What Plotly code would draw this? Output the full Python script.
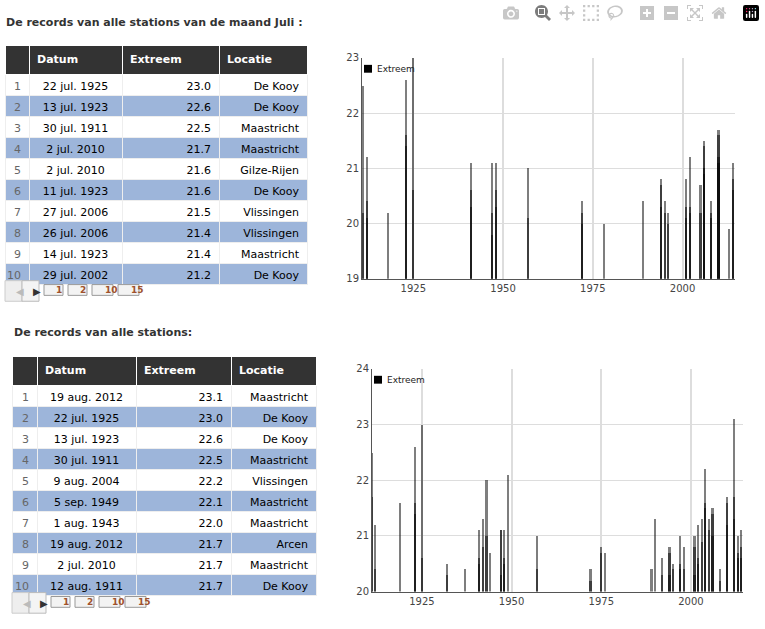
import plotly.graph_objects as go

W, H = 765, 629
FONT = "DejaVu Sans"

# ---- table data ----
t1_datum = ["22 jul. 1925", "13 jul. 1923", "30 jul. 1911", "2 jul. 2010", "2 jul. 2010",
            "11 jul. 1923", "27 jul. 2006", "26 jul. 2006", "14 jul. 1923", "29 jul. 2002"]
t1_extreem = ["23.0", "22.6", "22.5", "21.7", "21.6", "21.6", "21.5", "21.4", "21.4", "21.2"]
t1_locatie = ["De Kooy", "De Kooy", "Maastricht", "Maastricht", "Gilze-Rijen",
              "De Kooy", "Vlissingen", "Vlissingen", "Maastricht", "De Kooy"]

t2_datum = ["19 aug. 2012", "22 jul. 1925", "13 jul. 1923", "30 jul. 1911", "9 aug. 2004",
            "5 sep. 1949", "1 aug. 1943", "19 aug. 2012", "2 jul. 2010", "12 aug. 1911"]
t2_extreem = ["23.1", "23.0", "22.6", "22.5", "22.2", "22.1", "22.0", "21.7", "21.7", "21.7"]
t2_locatie = ["Maastricht", "De Kooy", "De Kooy", "Maastricht", "Vlissingen",
              "Maastricht", "Maastricht", "Arcen", "Maastricht", "De Kooy"]

# ---- chart data: per year, all record values ----
years1 = [1911, 1912, 1918, 1923, 1925, 1941, 1947, 1948, 1957, 1972, 1978, 1989,
          1994, 1995, 1996, 2001, 2002, 2005, 2006, 2008, 2010, 2013, 2014]
vals1 = [[22.5, 20.2], [21.2, 20.4, 20.1], [20.2], [22.6, 21.6, 21.4], [23.0, 20.6],
         [21.1, 20.6, 20.3], [21.1, 20.2, 19.8], [21.1, 20.6, 20.3], [21.0, 20.1],
         [20.4, 20.2, 20.0], [20.0], [20.4], [20.8, 20.7, 20.3], [20.4, 20.2],
         [20.2, 20.0], [20.8, 20.3, 20.1], [21.2, 20.3, 20.2], [20.7, 20.2],
         [21.5, 21.4, 21.0, 20.9], [20.4, 20.2, 20.1], [21.7, 21.6, 21.2, 21.1],
         [19.9], [21.1, 20.8, 20.6]]

years2 = [1911, 1912, 1919, 1923, 1925, 1932, 1937, 1941, 1942, 1943, 1944, 1947,
          1948, 1949, 1957, 1972, 1975, 1976, 1989, 1990, 1992, 1994, 1995, 1997,
          1998, 2001, 2002, 2003, 2004, 2005, 2006, 2008, 2010, 2012, 2013, 2014]
vals2 = [[22.5, 21.7], [21.2, 20.4], [21.6], [22.6, 21.6, 21.4], [23.0, 20.6],
         [20.5, 20.3], [20.4], [21.1, 20.6, 20.5], [21.3, 20.8], [22.0, 21.0], [20.7],
         [21.1, 21.1, 20.3], [21.1, 20.6, 20.5], [22.1], [21.0, 20.4], [20.4, 20.2],
         [20.8, 20.7], [20.7], [20.4], [21.3], [20.6, 20.3], [20.8, 20.7, 20.3],
         [20.5, 20.4], [21.0, 20.5, 20.4], [20.8, 20.4], [21.0, 20.8, 20.3],
         [21.2, 20.6, 20.5], [21.3, 20.9], [22.2, 21.6, 21.5], [21.3, 21.1],
         [21.5, 21.4, 21.0], [20.4, 20.2], [21.7, 21.6, 21.2], [23.1, 21.7, 21.3],
         [21.0, 20.7, 20.6], [21.1, 20.8, 20.6]]

ROW_BLUE = "#9db5da"


def px_x(x):
    return x / W


def px_y(y):
    return 1 - y / H


fig = go.Figure()


def add_table(datum, extreem, locatie, x0, x1, y0, y1, widths):
    fills = ["white" if i % 2 == 0 else ROW_BLUE for i in range(len(datum))]
    fig.add_trace(go.Table(
        domain=dict(x=[px_x(x0), px_x(x1)], y=[px_y(y1), px_y(y0)]),
        columnwidth=widths,
        header=dict(values=["", "<b>Datum</b>", "<b>Extreem</b>", "<b>Locatie</b>"],
                    fill_color="#333333", line_color="white", height=20,
                    font=dict(family=FONT, size=11, color="white"), align="left"),
        cells=dict(values=[[str(i + 1) for i in range(len(datum))], datum, extreem, locatie],
                   fill_color=[fills] * 4, line_color="#eeeeee", height=21,
                   font=dict(family=FONT, size=11, color=["#666666", "black", "black", "black"]),
                   align=["right", "center", "right", "right"]),
    ))


add_table(t1_datum, t1_extreem, t1_locatie, 5, 307, 40, 285, [24, 93, 97, 88])
add_table(t2_datum, t2_extreem, t2_locatie, 12, 316, 357, 603, [25, 99, 95, 85])


def add_chart(years, vals, ax, x0, x1, y0, y1, yrange, xrange):
    n = max(len(v) for v in vals)
    for k in range(n):
        xs = [yr for yr, v in zip(years, vals) if len(v) > k]
        ys = [v[k] for v in vals if len(v) > k]
        fig.add_trace(go.Bar(x=xs, y=ys, width=0.6, marker=dict(color="black", line_width=0),
                             opacity=0.5, xaxis="x" + ax, yaxis="y" + ax, showlegend=False))
    fig.update_layout(**{
        "xaxis" + ax: dict(domain=[px_x(x0), px_x(x1)], range=xrange, anchor="y" + ax,
                           tickvals=[1925, 1950, 1975, 2000], showgrid=True,
                           gridcolor="#dddddd", gridwidth=2, showline=True, linecolor="#555555",
                           ticks="", tickfont=dict(family=FONT, size=10, color="#444444")),
        "yaxis" + ax: dict(domain=[px_y(y1), px_y(y0)], range=yrange, anchor="x" + ax,
                           dtick=1, showgrid=True, gridcolor="#dddddd", zeroline=False,
                           showline=True, linecolor="#555555",
                           tickfont=dict(family=FONT, size=10, color="#444444")),
    })
    # legend marker
    fig.add_shape(type="rect", xref="paper", yref="paper",
                  x0=px_x(x0 + 2), x1=px_x(x0 + 10), y0=px_y(y0 + 15), y1=px_y(y0 + 7),
                  fillcolor="black", line_width=0)
    fig.add_annotation(xref="paper", yref="paper", x=px_x(x0 + 13), y=px_y(y0 + 11),
                       text="Extreem", showarrow=False, xanchor="left", yanchor="middle",
                       font=dict(family=FONT, size=9, color="#222222"))


add_chart(years1, vals1, "2", 362, 735, 53, 278, [19, 23], [1910.7, 2014.6])
add_chart(years2, vals2, "3", 372, 743, 370, 597, [20, 24], [1911.1, 2014.5])
fig.update_layout(xaxis=dict(visible=False), yaxis=dict(visible=False))

# titles
for txt, x, y in [("De records van alle stations van de maand Juli :", 4, 17),
                  ("De records van alle stations:", 12, 333)]:
    fig.add_annotation(xref="paper", yref="paper", x=px_x(x), y=px_y(y), text="<b>" + txt + "</b>",
                       showarrow=False, xanchor="left", yanchor="middle",
                       font=dict(family=FONT, size=11, color="#333333"))


# pagination buttons
def add_pager(x, y):
    fig.add_shape(type="rect", xref="paper", yref="paper", x0=px_x(x), x1=px_x(x + 17),
                  y0=px_y(y + 21), y1=px_y(y), fillcolor="#eeeeee", line=dict(color="#cccccc", width=1))
    fig.add_shape(type="rect", xref="paper", yref="paper", x0=px_x(x + 17), x1=px_x(x + 34),
                  y0=px_y(y + 21), y1=px_y(y), fillcolor="#f4f4f4", line=dict(color="#bbbbbb", width=1))
    fig.add_annotation(xref="paper", yref="paper", x=px_x(x + 8.5), y=px_y(y + 10.5), text="◀",
                       showarrow=False, yanchor="middle", font=dict(size=10, color="#bbbbbb"))
    fig.add_annotation(xref="paper", yref="paper", x=px_x(x + 25.5), y=px_y(y + 10.5), text="▶",
                       showarrow=False, yanchor="middle", font=dict(size=10, color="#333333"))
    bx = x + 39
    for lab in ["1", "2", "10", "15"]:
        w = 19 if len(lab) == 1 else 21
        fig.add_shape(type="rect", xref="paper", yref="paper", x0=px_x(bx), x1=px_x(bx + w),
                      y0=px_y(y + 15), y1=px_y(y + 4), fillcolor="#f3f3f3",
                      line=dict(color="#999999", width=1))
        fig.add_annotation(xref="paper", yref="paper", x=px_x(bx + w / 2), y=px_y(y + 9.5),
                           text="<b>" + lab + "</b>", showarrow=False, yanchor="middle",
                           font=dict(family=FONT, size=9, color="#a0522d"))
        bx += w + 5


add_pager(5, 280)
add_pager(12, 598)

fig.update_layout(width=W, height=H, margin=dict(l=0, r=0, t=0, b=0), barmode="overlay",
                  plot_bgcolor="white", paper_bgcolor="white", bargap=0)
fig.write_html("out.html", post_script="document.body.style.margin='0';")
